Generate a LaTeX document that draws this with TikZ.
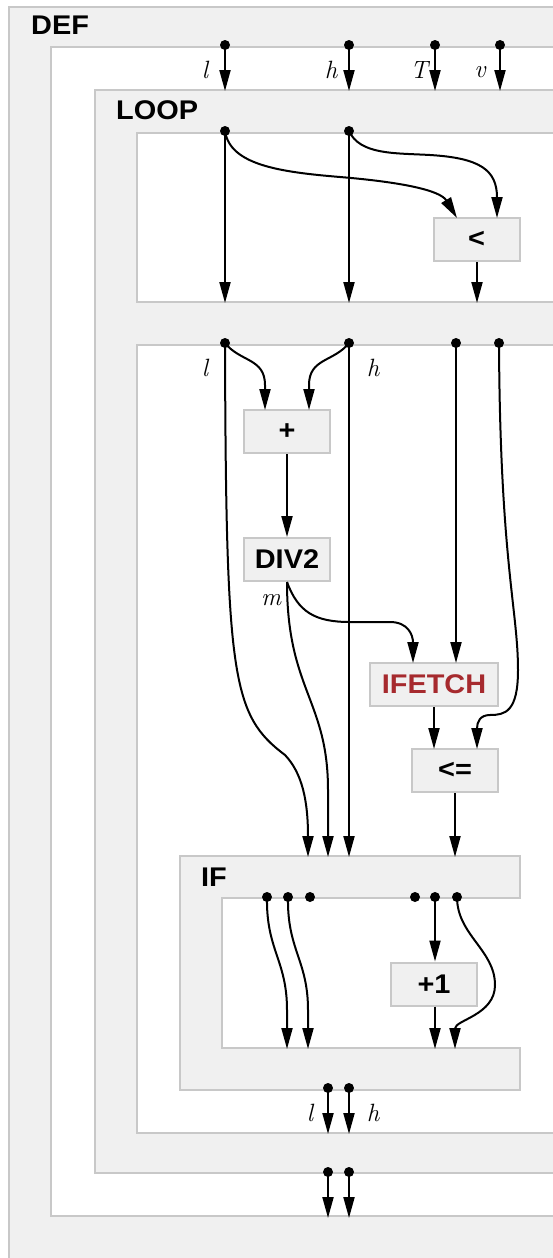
\documentclass[tikz,border=0pt]{standalone}
\usepackage{fontspec}
\newfontfamily\lblfont[FakeStretch=1.07]{Liberation Sans}
\usetikzlibrary{arrows.meta}
\definecolor{panel}{HTML}{F0F0F0}
\definecolor{rim}{HTML}{C8C8C8}
\definecolor{fetchred}{HTML}{A62A2E}
\tikzset{
  frame/.style={fill=panel,draw=rim,line width=2pt},
  window/.style={fill=white,draw=rim,line width=2pt},
  opbox/.style={rectangle,fill=panel,draw=rim,line width=2pt,minimum width=86pt,minimum height=43pt,inner sep=0pt,font=\lblfont\bfseries\fontsize{27}{27}\selectfont},
  title/.style={anchor=west,inner sep=0pt,font=\lblfont\bfseries\fontsize{27}{27}\selectfont},
  var/.style={inner sep=0pt,font=\itshape\fontsize{25}{25}\selectfont},
  wire/.style={line width=2pt,-{Triangle[length=21pt,width=11pt]}},
  portdot/.style={fill=black}
}
\begin{document}
\begin{tikzpicture}[x=1pt,y=-1pt]
\useasboundingbox (0,0) rectangle (553,1258);
\clip (0,0) rectangle (553,1258);
% frames
\draw[frame] (9,7) rectangle (600,1300);
\draw[window] (51,47) rectangle (600,1216);
\draw[frame] (95,90) rectangle (600,1173);
\draw[window] (137,133) rectangle (600,302);
\draw[window] (137,345) rectangle (600,1133);
\draw[frame] (180,856) rectangle (520,1090);
\fill[white] (222,898) rectangle (522,1048);
\draw[rim,line width=2pt] (521,898) -- (222,898) -- (222,1048) -- (521,1048);
% titles
\node[title] (tdef) at (31,25) {DEF};
\node[title] (tloop) at (116,110) {LOOP};
\node[title] (tif) at (201,877) {IF};
% boxes
\node[opbox] (lt) at (476.5,239.5) {<};
\node[opbox] (plus) at (287,431.5) {+};
\node[opbox] (div) at (287,559.5) {DIV2};
\node[opbox,minimum width=128pt,text=fetchred] (fetch) at (434,684.5) {IFETCH};
\node[opbox] (le) at (455,770.5) {<=};
\node[opbox] (inc) at (434,984) {+1};
% ports
\coordinate (dl) at (225,45);
\coordinate (dh) at (349,45);
\coordinate (dT) at (435,45);
\coordinate (dv) at (500,45);
\coordinate (li1) at (225,91);
\coordinate (li2) at (349,91);
\coordinate (li3) at (435,91);
\coordinate (li4) at (500,91);
\coordinate (c1) at (225,131);
\coordinate (c2) at (349,131);
\coordinate (co1) at (225,303);
\coordinate (co2) at (349,303);
\coordinate (co3) at (477,303);
\coordinate (ltin1) at (457,218);
\coordinate (ltin2) at (497,218);
\coordinate (ltout) at (477,261);
\coordinate (b1) at (225,343);
\coordinate (b2) at (349,343);
\coordinate (b3) at (456,343);
\coordinate (b4) at (499,343);
\coordinate (plin1) at (265,410);
\coordinate (plin2) at (309,410);
\coordinate (fin1) at (413,663);
\coordinate (fin2) at (456,663);
\coordinate (lein1) at (434,749);
\coordinate (lein2) at (477,749);
\coordinate (ifi1) at (308,857);
\coordinate (ifi2) at (328,857);
\coordinate (ifi3) at (349,857);
\coordinate (ifi4) at (455,857);
\coordinate (id1) at (267,897);
\coordinate (id2) at (288,897);
\coordinate (id3) at (310,897);
\coordinate (id4) at (415,897);
\coordinate (id5) at (435,897);
\coordinate (id6) at (457,897);
\coordinate (io1) at (287,1049);
\coordinate (io2) at (308,1049);
\coordinate (io3) at (435,1049);
\coordinate (io4) at (455,1049);
\coordinate (ifo1) at (328,1088);
\coordinate (ifo2) at (349,1088);
\coordinate (bo1) at (328,1134);
\coordinate (bo2) at (349,1134);
\coordinate (lo1) at (328,1172);
\coordinate (lo2) at (349,1172);
\coordinate (de1) at (328,1218);
\coordinate (de2) at (349,1218);
% wires: DEF inputs
\draw[wire] (dl) -- (li1);
\draw[wire] (dh) -- (li2);
\draw[wire] (dT) -- (li3);
\draw[wire] (dv) -- (li4);
% condition
\draw[wire] (c1) -- (co1);
\draw[wire] (c2) -- (co2);
\draw[wire] (c1) .. controls (230,165) and (280,172) .. (340,177) .. controls (400,182) and (440,190) .. (ltin1);
\draw[wire] (c2) .. controls (360,155) and (395,153) .. (430,155) .. controls (480,158) and (497,170) .. (ltin2);
\draw[wire] (lt.south -| ltout) -- (co3);
% body
\draw[wire] (b1) .. controls (240,362) and (265,358) .. (265,385) -- (plin1);
\draw[wire] (b2) .. controls (334,362) and (309,358) .. (309,385) -- (plin2);
\draw[wire] (plus.south) -- (div.north);
\draw[wire] (b1) .. controls (226,680) and (232,715) .. (285,755) .. controls (302,773) and (308,800) .. (ifi1);
\draw[wire] (div.south) .. controls (287,690) and (328,700) .. (328,790) -- (ifi2);
\draw[wire] (div.south) .. controls (298,612) and (315,622) .. (350,622) -- (390,622) .. controls (408,622) and (413,635) .. (fin1);
\draw[wire] (b2) -- (ifi3);
\draw[wire] (b3) -- (fin2);
\draw[wire] (b4) .. controls (500,560) and (518,610) .. (518,670) .. controls (518,712) and (505,715) .. (490,715) .. controls (480,715) and (477,722) .. (lein2);
\draw[wire] (fetch.south) -- (lein1);
\draw[wire] (le.south) -- (ifi4);
% IF inner
\draw[wire] (id1) .. controls (266,950) and (287,960) .. (287,1010) -- (io1);
\draw[wire] (id2) .. controls (287,950) and (308,960) .. (308,1010) -- (io2);
\draw[wire] (id5) -- (inc.north -| id5);
\draw[wire] (inc.south -| id5) -- (io3);
\draw[wire] (id6) .. controls (457,935) and (495,950) .. (495,985) .. controls (495,1015) and (455,1020) .. (io4);
% outputs
\draw[wire] (ifo1) -- (bo1);
\draw[wire] (ifo2) -- (bo2);
\draw[wire] (lo1) -- (de1);
\draw[wire] (lo2) -- (de2);
% dots
\foreach \p in {dl,dh,dT,dv,c1,c2,b1,b2,b3,b4,id1,id2,id3,id4,id5,id6,ifo1,ifo2,lo1,lo2}
  \fill[portdot] (\p) circle (5);
% variable labels
\node[var] (vl) at (205,70) {l};
\node[var] (vh) at (331,70) {h};
\node[var] (vT) at (419,70) {T};
\node[var] (vv) at (480,72) {v};
\node[var] (bl) at (205,368) {l};
\node[var] (bh) at (373,368) {h};
\node[var] (vm) at (271,600) {m};
\node[var] (ol) at (310,1113) {l};
\node[var] (oh) at (373,1113) {h};
\end{tikzpicture}
\end{document}
